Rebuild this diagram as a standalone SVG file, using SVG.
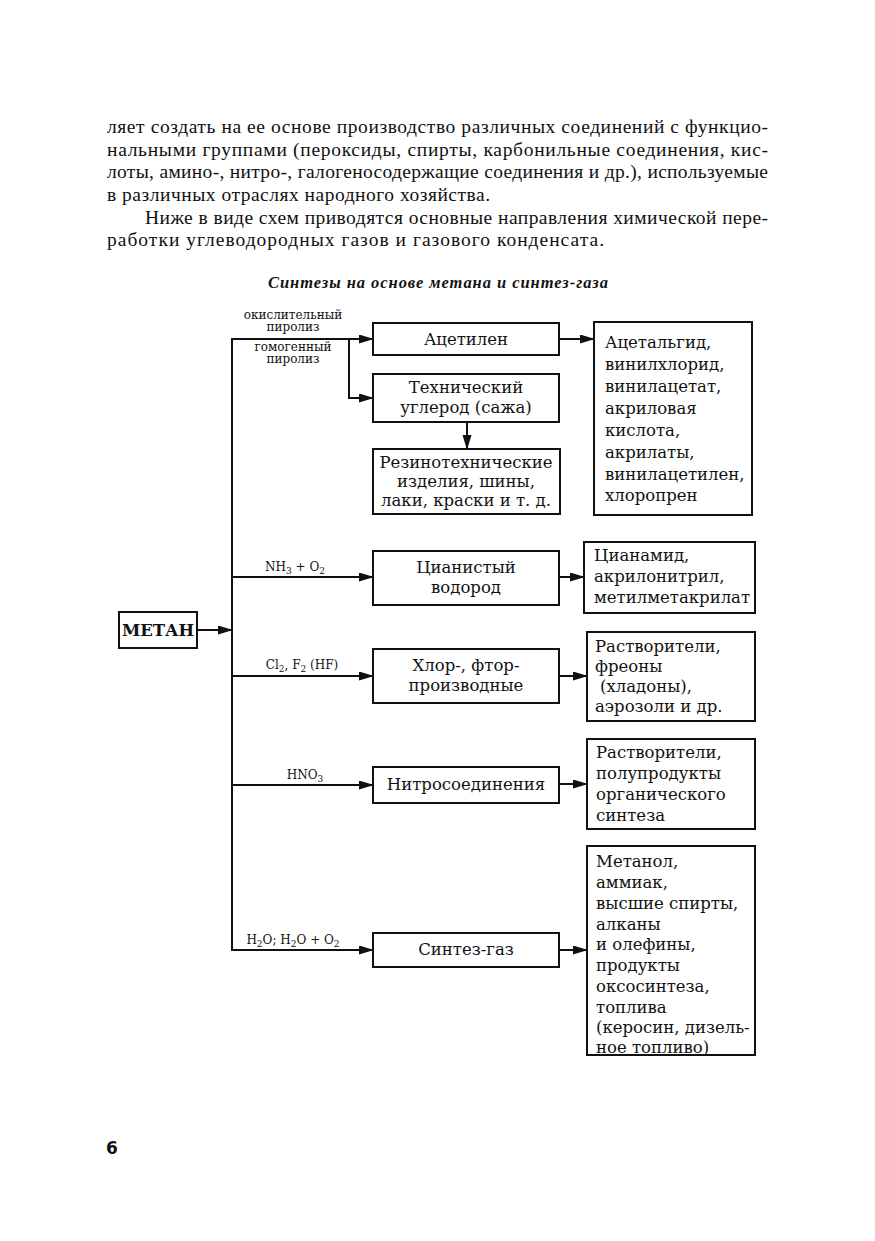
<svg xmlns="http://www.w3.org/2000/svg" width="875" height="1241" viewBox="0 0 875 1241">
<style>
.body{font-family:"Liberation Serif","Times New Roman",serif;font-size:19.5px;fill:#111}
.cap{font-family:"Liberation Serif","Times New Roman",serif;font-size:16.5px;font-weight:bold;font-style:italic;fill:#111}
.box{fill:#fff;stroke:#111;stroke-width:2}
.t{font-family:"DejaVu Serif","Liberation Serif",serif;font-size:16.5px;fill:#111}
.tc{font-family:"DejaVu Serif","Liberation Serif",serif;font-size:16.5px;fill:#111;text-anchor:middle}
.lb{font-family:"DejaVu Serif","Liberation Serif",serif;font-size:12px;fill:#111;text-anchor:middle}
.ln{fill:none;stroke:#111;stroke-width:2}
.pg{font-family:"DejaVu Sans","Liberation Sans",sans-serif;font-size:17px;font-weight:bold;fill:#111}
</style>
<defs>
<marker id="ar" markerUnits="userSpaceOnUse" markerWidth="15" markerHeight="10" refX="14" refY="4.5" orient="auto">
<path d="M0,0 L15,4.5 L0,9 z" fill="#111"/>
</marker>
</defs>
<rect width="875" height="1241" fill="#fff"/>
<g id="page-text">
<text class="body" x="107" y="133" textLength="661" lengthAdjust="spacing">ляет создать на ее основе производство различных соединений с функцио-</text>
<text class="body" x="107" y="156" textLength="661" lengthAdjust="spacing">нальными группами (пероксиды, спирты, карбонильные соединения, кис-</text>
<text class="body" x="107" y="178" textLength="661" lengthAdjust="spacing">лоты, амино-, нитро-, галогеносодержащие соединения и др.), используемые</text>
<text class="body" x="107" y="201" textLength="383" lengthAdjust="spacing">в различных отраслях народного хозяйства.</text>
<text class="body" x="145" y="224" textLength="623" lengthAdjust="spacing">Ниже в виде схем приводятся основные направления химической пере-</text>
<text class="body" x="107" y="246" textLength="497" lengthAdjust="spacing">работки углеводородных газов и газового конденсата.</text>
<text class="cap" x="268" y="288" textLength="340" lengthAdjust="spacing">Синтезы на основе метана и синтез-газа</text>
<text class="pg" x="106" y="1154">6</text>
</g>
<g id="connectors">
<line class="ln" x1="197" y1="630" x2="232" y2="630" marker-end="url(#ar)"/>
<line class="ln" x1="232" y1="338" x2="232" y2="951"/>
<line class="ln" x1="231" y1="339" x2="373" y2="339" marker-end="url(#ar)"/>
<polyline class="ln" points="349,339 349,398 373,398" marker-end="url(#ar)"/>
<line class="ln" x1="467" y1="422" x2="467" y2="449" marker-end="url(#ar)"/>
<line class="ln" x1="559" y1="339" x2="594" y2="339" marker-end="url(#ar)"/>
<line class="ln" x1="232" y1="577" x2="373" y2="577" marker-end="url(#ar)"/>
<line class="ln" x1="559" y1="577" x2="584" y2="577" marker-end="url(#ar)"/>
<line class="ln" x1="232" y1="676" x2="373" y2="676" marker-end="url(#ar)"/>
<line class="ln" x1="559" y1="676" x2="587" y2="676" marker-end="url(#ar)"/>
<line class="ln" x1="232" y1="785" x2="373" y2="785" marker-end="url(#ar)"/>
<line class="ln" x1="559" y1="784" x2="587" y2="784" marker-end="url(#ar)"/>
<line class="ln" x1="231" y1="950" x2="373" y2="950" marker-end="url(#ar)"/>
<line class="ln" x1="559" y1="950" x2="587" y2="950" marker-end="url(#ar)"/>
<text class="lb" x="293" y="319">окислительный</text>
<text class="lb" x="293" y="331">пиролиз</text>
<text class="lb" x="293" y="351">гомогенный</text>
<text class="lb" x="293" y="363">пиролиз</text>
<text class="lb" x="295" y="571">NH<tspan font-size="9" dy="3">3</tspan><tspan dy="-3"> + O</tspan><tspan font-size="9" dy="3">2</tspan></text>
<text class="lb" x="302" y="669">Cl<tspan font-size="9" dy="3">2</tspan><tspan dy="-3">, F</tspan><tspan font-size="9" dy="3">2</tspan><tspan dy="-3"> (HF)</tspan></text>
<text class="lb" x="305" y="779">HNO<tspan font-size="9" dy="3">3</tspan></text>
<text class="lb" x="293" y="944">H<tspan font-size="9" dy="3">2</tspan><tspan dy="-3">O; H</tspan><tspan font-size="9" dy="3">2</tspan><tspan dy="-3">O + O</tspan><tspan font-size="9" dy="3">2</tspan></text>
</g>
<g id="metan">
<rect class="box" x="119" y="612" width="78" height="36"/>
<text class="tc" x="158" y="636" font-weight="bold" font-size="14">МЕТАН</text>
</g>
<g id="acetylene">
<rect class="box" x="373" y="323" width="186" height="32"/>
<text class="tc" x="466" y="345">Ацетилен</text>
</g>
<g id="carbon">
<rect class="box" x="373" y="374" width="186" height="48"/>
<text class="tc" x="466" y="393">Технический</text>
<text class="tc" x="466" y="413">углерод (сажа)</text>
</g>
<g id="rubber">
<rect class="box" x="373" y="449" width="187" height="65"/>
<text class="tc" x="466" y="468">Резинотехнические</text>
<text class="tc" x="466" y="487">изделия, шины,</text>
<text class="tc" x="466" y="506">лаки, краски и т. д.</text>
</g>
<g id="acetylene-products">
<rect class="box" x="594" y="322" width="158" height="193"/>
<text class="t" x="605" y="348">Ацетальгид,</text>
<text class="t" x="605" y="370">винилхлорид,</text>
<text class="t" x="605" y="392">винилацетат,</text>
<text class="t" x="605" y="414">акриловая</text>
<text class="t" x="605" y="436">кислота,</text>
<text class="t" x="605" y="458">акрилаты,</text>
<text class="t" x="605" y="480">винилацетилен,</text>
<text class="t" x="605" y="501">хлоропрен</text>
</g>
<g id="hcn">
<rect class="box" x="373" y="551" width="186" height="54"/>
<text class="tc" x="466" y="573">Цианистый</text>
<text class="tc" x="466" y="593">водород</text>
</g>
<g id="hcn-products">
<rect class="box" x="584" y="542" width="171" height="71"/>
<text class="t" x="594" y="561">Цианамид,</text>
<text class="t" x="594" y="582">акрилонитрил,</text>
<text class="t" x="594" y="603">метилметакрилат</text>
</g>
<g id="halo">
<rect class="box" x="373" y="649" width="186" height="54"/>
<text class="tc" x="466" y="671">Хлор-, фтор-</text>
<text class="tc" x="466" y="691">производные</text>
</g>
<g id="halo-products">
<rect class="box" x="587" y="632" width="168" height="89"/>
<text class="t" x="595" y="652">Растворители,</text>
<text class="t" x="595" y="672">фреоны</text>
<text class="t" x="600" y="692">(хладоны),</text>
<text class="t" x="595" y="712">аэрозоли и др.</text>
</g>
<g id="nitro">
<rect class="box" x="373" y="767" width="186" height="36"/>
<text class="tc" x="466" y="790">Нитросоединения</text>
</g>
<g id="nitro-products">
<rect class="box" x="587" y="739" width="168" height="90"/>
<text class="t" x="596" y="758">Растворители,</text>
<text class="t" x="596" y="779">полупродукты</text>
<text class="t" x="596" y="800">органического</text>
<text class="t" x="596" y="821">синтеза</text>
</g>
<g id="syngas">
<rect class="box" x="373" y="933" width="186" height="34"/>
<text class="tc" x="466" y="955">Синтез-газ</text>
</g>
<g id="syngas-products">
<rect class="box" x="587" y="846" width="168" height="209"/>
<text class="t" x="596" y="867">Метанол,</text>
<text class="t" x="596" y="888">аммиак,</text>
<text class="t" x="596" y="909">высшие спирты,</text>
<text class="t" x="596" y="930">алканы</text>
<text class="t" x="596" y="950">и олефины,</text>
<text class="t" x="596" y="971">продукты</text>
<text class="t" x="596" y="992">оксосинтеза,</text>
<text class="t" x="596" y="1013">топлива</text>
<text class="t" x="596" y="1033">(керосин, дизель-</text>
<text class="t" x="596" y="1053">ное топливо)</text>
</g>
</svg>
